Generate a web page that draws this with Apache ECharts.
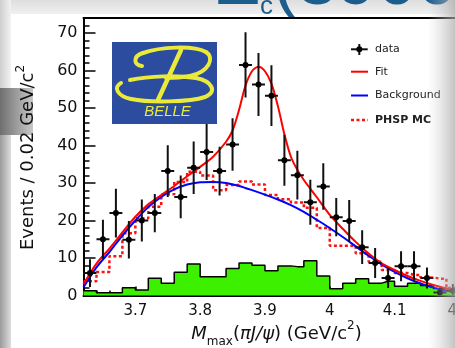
<!DOCTYPE html>
<html><head><meta charset="utf-8">
<script src="https://cdn.jsdelivr.net/npm/echarts@6/dist/echarts.min.js"></script>
<style>html,body{margin:0;padding:0;background:#fff}#c{width:455px;height:348px}</style>
</head><body><div id="c"></div>
<script>
// ---- data ----
const X_MIN = 3.62, X_MAX = 4.24, Y_MIN = 0, Y_MAX = 74;
const binCenters = [3.63,3.65,3.67,3.69,3.71,3.73,3.75,3.77,3.79,3.81,3.83,3.85,3.87,3.89,3.91,3.93,3.95,3.97,3.99,4.01,4.03,4.05,4.07,4.09,4.11,4.13,4.15,4.17,4.19,4.21];
const binHalf = 0.01;
const signalMC = [1.3,0.75,0.75,2.1,1.5,4.6,3.3,6.2,8.4,5.0,5.0,7.2,8.7,8.1,6.6,7.9,7.7,9.3,5.2,1.8,3.3,4.5,3.3,3.8,2.5,3.3,2.7,1.9,1.6,1.5];
const phspMC = [3.8,6.3,10.5,16.6,20.6,23.7,27.0,30.3,33.0,32.0,28.1,29.5,30.4,29.6,26.8,25.7,24.8,23.4,18.0,13.3,13.3,11.3,9.0,6.8,6.0,5.5,4.8,4.5,2.0,2.0];
const dataX = [3.63,3.65,3.67,3.69,3.71,3.73,3.75,3.77,3.79,3.81,3.83,3.85,3.87,3.89,3.91,3.93,3.95,3.97,3.99,4.01,4.03,4.05,4.07,4.09,4.11,4.13,4.15,4.17,4.19];
const dataY = [6.0,15.0,22.0,14.9,20.0,22.0,33.2,26.3,34.1,38.3,33.2,40.3,61.5,56.3,53.3,36.1,32.1,24.9,29.1,20.9,19.9,12.9,8.7,4.7,7.8,7.8,4.7,0.8,1.3];
const dataErr = [3.7,5.2,6.5,5.0,5.6,5.1,6.9,5.7,7.0,7.5,6.5,7.0,8.7,8.4,8.1,6.8,6.5,6.0,6.2,5.1,5.6,4.5,4.0,2.7,4.0,4.0,2.8,1.3,1.8];
const fitX = [3.62,3.64,3.66,3.68,3.70,3.72,3.74,3.76,3.78,3.80,3.82,3.84,3.85,3.86,3.87,3.88,3.89,3.90,3.91,3.92,3.93,3.94,3.95,3.96,3.98,4.00,4.02,4.04,4.06,4.08,4.10,4.12,4.14,4.16,4.18,4.20,4.22,4.24];
const fitY = [3.0,8.5,12.5,16.8,21.0,24.3,26.8,29.2,31.8,34.3,37.0,41.0,44.0,49.5,56.0,59.8,61.0,59.8,56.5,50.5,43.0,37.0,33.5,30.8,26.2,21.5,17.8,14.3,11.2,8.6,6.8,5.2,3.9,2.8,1.9,1.2,0.7,0.4];
const bkgX = [3.62,3.64,3.66,3.68,3.70,3.72,3.74,3.76,3.78,3.80,3.82,3.84,3.86,3.88,3.90,3.92,3.94,3.96,3.98,4.00,4.02,4.04,4.06,4.08,4.10,4.12,4.14,4.16,4.18,4.20,4.22,4.24];
const bkgY = [2.2,7.5,11.6,16.0,20.0,23.6,26.3,28.3,29.6,30.2,30.3,30.0,29.2,28.1,26.9,25.6,24.1,22.3,20.2,18.0,15.6,13.1,10.6,8.3,6.3,4.6,3.2,2.1,1.3,0.7,0.3,0.1];
const xMajorTicks = [3.7,3.8,3.9,4.0,4.1,4.2];
const xTickLabels = ['3.7','3.8','3.9','4','4.1','4.2'];
const yMajorTicks = [0,10,20,30,40,50,60,70];
const yTickLabels = ['0','10','20','30','40','50','60','70'];
const legendNames = ['data','Fit','Background','PHSP MC'];

// ---- build ----
const xMinorTicks = []; for (let k = 0; k <= 31; k++) xMinorTicks.push(+(X_MIN + 0.02*k).toFixed(2));
const yMinorTicks = []; for (let k = 0; k <= 36; k++) yMinorTicks.push(2*k);
function stepData(vals){
  const out = [[+(binCenters[0]-binHalf).toFixed(3), vals[0]]];
  binCenters.forEach((c,i)=>out.push([c, vals[i]]));
  out.push([+(binCenters[binCenters.length-1]+binHalf).toFixed(3), vals[vals.length-1]]);
  return out;
}
const zip = (a,b)=>a.map((v,i)=>[v,b[i]]);
const FONT = 'DejaVu Sans';
const axisLine = {show:true, onZero:false, lineStyle:{color:'#000', width:2}};
function lbl(ticks, labels){ return v => { const i = ticks.findIndex(t=>Math.abs(t-v)<1e-6); return i>=0?labels[i]:''; }; }

// Belle logo strokes (cubic segments: x1,y1, cpx1,cpy1, cpx2,cpy2, x2,y2)
const YEL = '#eaea3c';
const logoCurves = [
  [142,66, 133,65, 133,56, 143,53],
  [143,53, 160,47, 193,45, 206,52],
  [206,52, 215,58, 209,72, 190,76],
  [190,76, 182,77.5, 172,78, 166,78],
  [130,80, 150,76, 176,75, 196,78],
  [196,78, 212,81, 218,92, 205,97],
  [205,97, 190,102, 150,103, 131,99],
  [131,99, 117,96, 113,87, 121,83]
];
const logoEls = [{type:'rect', z:50, shape:{x:112,y:42,width:105,height:82}, style:{fill:'#2b4c9f'}},
  {type:'line', z:51, shape:{x1:181,y1:50,x2:158,y2:100}, style:{stroke:YEL, lineWidth:4.5, lineCap:'round'}}];
logoCurves.forEach(c=>logoEls.push({type:'bezierCurve', z:51,
  shape:{x1:c[0],y1:c[1],cpx1:c[2],cpy1:c[3],cpx2:c[4],cpy2:c[5],x2:c[6],y2:c[7]},
  style:{stroke:YEL, lineWidth:4, fill:null, lineCap:'round'}}));
logoEls.push({type:'text', z:51, x:167.5, y:112, style:{text:'BELLE', fontFamily:'Liberation Sans', fontStyle:'italic', fontSize:15, fill:YEL, align:'center', verticalAlign:'middle'}});

const chart = echarts.init(document.getElementById('c'));
const option = {
  animation:false,
  backgroundColor:'#fff',
  grid:{left:83.5, top:18, width:401.8, height:277.5, containLabel:false, outerBoundsMode:'none'},
  xAxis:[
    {type:'value', min:X_MIN, max:X_MAX, position:'bottom', axisLine:axisLine,
     axisTick:{show:true, inside:true, length:9, customValues:xMajorTicks, lineStyle:{color:'#000', width:1.5}},
     axisLabel:{show:true, customValues:xMajorTicks, formatter:lbl(xMajorTicks,xTickLabels), fontFamily:FONT, fontSize:15, color:'#111', margin:8, hideOverlap:false},
     splitLine:{show:false}},
    {type:'value', min:X_MIN, max:X_MAX, position:'bottom', axisLine:{show:false},
     axisTick:{show:true, inside:true, length:5, customValues:xMinorTicks, lineStyle:{color:'#000', width:1.5}},
     axisLabel:{show:false}, splitLine:{show:false}},
    {type:'value', min:X_MIN, max:X_MAX, position:'top', axisLine:axisLine,
     axisTick:{show:false}, axisLabel:{show:false}, splitLine:{show:false}}
  ],
  yAxis:[
    {type:'value', min:Y_MIN, max:Y_MAX, position:'left', axisLine:axisLine,
     axisTick:{show:true, inside:true, length:12, customValues:yMajorTicks, lineStyle:{color:'#000', width:1.5}},
     axisLabel:{show:true, customValues:yMajorTicks, formatter:lbl(yMajorTicks,yTickLabels), fontFamily:FONT, fontSize:16, color:'#111', margin:6},
     splitLine:{show:false}},
    {type:'value', min:Y_MIN, max:Y_MAX, position:'left', axisLine:{show:false},
     axisTick:{show:true, inside:true, length:6, customValues:yMinorTicks, lineStyle:{color:'#000', width:1.5}},
     axisLabel:{show:false}, splitLine:{show:false}}
  ],
  series:[
    {name:'signal MC', type:'line', step:'middle', data:stepData(signalMC), symbol:'none', z:1,
     lineStyle:{color:'#000', width:1.5}, areaStyle:{color:'#3cf000', opacity:1}, itemStyle:{color:'#3cf000'}},
    {name:legendNames[3], type:'line', step:'middle', data:stepData(phspMC), symbol:'none', z:2,
     lineStyle:{color:'#ff1010', width:2.5, type:[3,2.5]}, itemStyle:{color:'#ff1010'}},
    {name:legendNames[2], type:'line', data:zip(bkgX,bkgY), symbol:'none', smooth:0.3, z:3,
     lineStyle:{color:'#0000ff', width:2}, itemStyle:{color:'#0000ff'}},
    {name:legendNames[1], type:'line', data:zip(fitX,fitY), symbol:'none', smooth:0.3, z:4,
     lineStyle:{color:'#ff0000', width:2}, itemStyle:{color:'#ff0000'}},
    {name:legendNames[0], type:'custom', z:5, clip:true,
     data:dataX.map((x,i)=>[x,dataY[i],dataErr[i]]), encode:{x:0,y:1},
     renderItem:function(params, api){
       const x = api.value(0), y = api.value(1), e = api.value(2);
       const c = api.coord([x,y]);
       const t = api.coord([x,y+e]);
       const b = api.coord([x,Math.max(Y_MIN,y-e)]);
       const l = api.coord([x-binHalf,y]);
       const r = api.coord([x+binHalf,y]);
       const st = {stroke:'#111', lineWidth:2};
       return {type:'group', children:[
         {type:'line', shape:{x1:c[0],y1:t[1],x2:c[0],y2:b[1]}, style:st},
         {type:'line', shape:{x1:l[0],y1:c[1],x2:r[0],y2:c[1]}, style:st},
         {type:'circle', shape:{cx:c[0],cy:c[1],r:3}, style:{fill:'#000'}}
       ]};
     }}
  ],
  graphic:[
    {type:'rect', z:-10, shape:{x:0,y:0,width:455,height:14}, style:{fill:{type:'linear',x:0,y:0,x2:0,y2:1,colorStops:[{offset:0,color:'#dedede'},{offset:1,color:'#f0f0f0'}]}}},
    {type:'rect', z:-10, shape:{x:0,y:0,width:11,height:88}, style:{fill:{type:'linear',x:0,y:0,x2:1,y2:0,colorStops:[{offset:0,color:'#cfcfcf'},{offset:1,color:'#f2f2f2'}]}}},
    {type:'rect', z:-10, shape:{x:0,y:88,width:33,height:47}, style:{fill:{type:'linear',x:0,y:0,x2:1,y2:0,colorStops:[{offset:0,color:'#6f6f6f'},{offset:1,color:'#c8c8c8'}]}}},
    {type:'rect', z:-10, shape:{x:0,y:135,width:11,height:213}, style:{fill:{type:'linear',x:0,y:0,x2:1,y2:0,colorStops:[{offset:0,color:'#9a9a9a'},{offset:1,color:'#dddddd'}]}}},
    {type:'text', z:-5, x:216, y:-52, style:{text:'{a|Z}{b|c}{a|(3900)}', fill:'#1c5d8e', align:'left', verticalAlign:'top',
      rich:{a:{fontFamily:'Liberation Sans', fontSize:72, lineHeight:72, fill:'#1c5d8e'}, b:{fontFamily:'Liberation Sans', fontSize:26, lineHeight:30, verticalAlign:'bottom', fill:'#1c5d8e'}}}},
    {type:'text', z:20, x:276.5, y:334, style:{text:'{i|M}{sub|max}{n|(}{i|\u03c0J/\u03c8}{n|) (GeV/c}{sup|2}{n|)}', align:'center', verticalAlign:'middle', fill:'#111',
      rich:{i:{fontFamily:FONT, fontStyle:'italic', fontSize:18, lineHeight:28, fill:'#111'}, n:{fontFamily:FONT, fontSize:18, lineHeight:28, fill:'#111'},
            sub:{fontFamily:FONT, fontSize:12, lineHeight:16, verticalAlign:'bottom', fill:'#111'}, sup:{fontFamily:FONT, fontSize:12, lineHeight:12, verticalAlign:'top', fill:'#111'}}}},
    {type:'text', z:20, x:28.5, y:157.5, rotation:Math.PI/2, style:{text:'{n|Events / 0.02 GeV/c}{sup|2}', align:'center', verticalAlign:'middle', fill:'#111',
      rich:{n:{fontFamily:FONT, fontSize:18, lineHeight:28, fill:'#111'}, sup:{fontFamily:FONT, fontSize:12, lineHeight:12, verticalAlign:'top', fill:'#111'}}}},
    {type:'group', z:50, children:logoEls},
    {type:'group', z:60, children:[
      {type:'line', shape:{x1:351,y1:49.3,x2:367.7,y2:49.3}, style:{stroke:'#111', lineWidth:2}},
      {type:'line', shape:{x1:359.3,y1:44,x2:359.3,y2:55}, style:{stroke:'#111', lineWidth:2}},
      {type:'circle', shape:{cx:359.3,cy:49.3,r:3}, style:{fill:'#000'}},
      {type:'text', x:375, y:49.3, style:{text:legendNames[0], fontFamily:FONT, fontSize:11, fill:'#222', verticalAlign:'middle'}},
      {type:'line', shape:{x1:351,y1:71.7,x2:368,y2:71.7}, style:{stroke:'#ff0000', lineWidth:2}},
      {type:'text', x:375, y:71.7, style:{text:legendNames[1], fontFamily:FONT, fontSize:11, fill:'#222', verticalAlign:'middle'}},
      {type:'line', shape:{x1:351,y1:95.5,x2:368,y2:95.5}, style:{stroke:'#0000ff', lineWidth:2}},
      {type:'text', x:375, y:95.5, style:{text:legendNames[2], fontFamily:FONT, fontSize:11, fill:'#222', verticalAlign:'middle'}},
      {type:'line', shape:{x1:351,y1:120,x2:368,y2:120}, style:{stroke:'#ff1010', lineWidth:2.5, lineDash:[3,2.5]}},
      {type:'text', x:375, y:120, style:{text:legendNames[3], fontFamily:FONT, fontSize:11, fontWeight:'bold', fill:'#222', verticalAlign:'middle'}}
    ]},
    {type:'rect', z:100, shape:{x:428,y:0,width:27,height:348}, style:{fill:{type:'linear',x:0,y:0,x2:1,y2:0,colorStops:[{offset:0,color:'rgba(200,200,200,0)'},{offset:1,color:'rgba(170,170,170,0.7)'}]}}}
  ]
};
chart.setOption(option);
</script>
</body></html>
